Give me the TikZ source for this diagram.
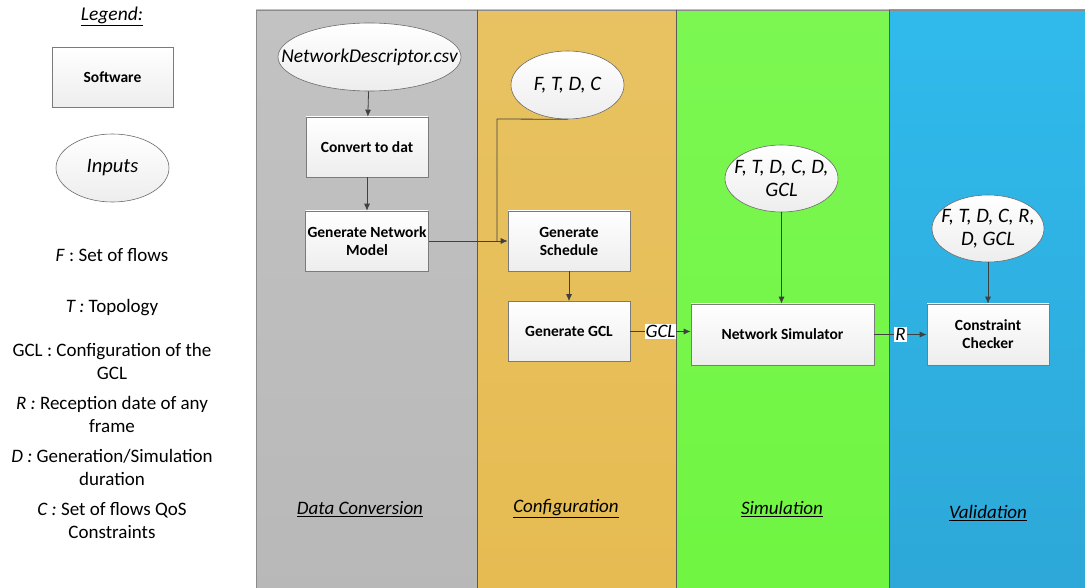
\documentclass[tikz,border=0pt]{standalone}
\usepackage{fontspec}
\setmainfont{Carlito}
\usetikzlibrary{shapes.geometric,arrows.meta}
\definecolor{lgray}{HTML}{C2C2C2}
\definecolor{lgold}{HTML}{E8C262}
\definecolor{lgoldb}{HTML}{E6BB52}
\definecolor{lgreen}{HTML}{7CF752}
\definecolor{lgreenb}{HTML}{70F542}
\definecolor{lblue}{HTML}{30BAEC}
\definecolor{lblueb}{HTML}{2DA8D8}
\definecolor{bord}{HTML}{5A5A5A}
\definecolor{arrc}{HTML}{404040}
\newcommand{\zb}[1]{\makebox[0pt]{#1}}
\begin{document}
\begin{tikzpicture}[x=1pt,y=-1pt,
  softbox/.style={draw=bord!80, line width=0.6pt, top color=white, bottom color=gray!14,
    minimum width=122pt, minimum height=60pt, inner sep=2pt, align=center,
    font=\bfseries\fontsize{15.5}{18}\selectfont},
  inputell/.style={ellipse, draw=bord!90, line width=0.6pt, top color=white, bottom color=gray!14,
    inner sep=0pt, align=center, font=\itshape\fontsize{20.5}{22.5}\selectfont},
  legtext/.style={align=center, font=\fontsize{19}{23}\selectfont},
  lanelabel/.style={font=\itshape\fontsize{19}{20}\selectfont},
  arr/.style={draw=arrc, line width=0.8pt, -{Latex[length=7pt,width=6pt]}},
  plain/.style={draw=arrc, line width=0.8pt},
  edgelab/.style={fill=white, inner sep=1pt, font=\itshape\fontsize{19}{20}\selectfont}
]
\useasboundingbox (0,0) rectangle (1085,588);
% lanes
\shade[top color=lgray, bottom color=lgray!95!black] (256,10) rectangle (477,588);
\shade[top color=lgold, bottom color=lgoldb] (477,10) rectangle (676,588);
\shade[top color=lgreen, bottom color=lgreenb] (676,10) rectangle (889,588);
\shade[top color=lblue, bottom color=lblueb] (889,10) rectangle (1085,588);
\draw[draw=bord!70, line width=0.8pt] (256,588) -- (256,10) -- (1085,10);
\foreach \xx in {477,676,889} \draw[draw=bord, line width=0.7pt] (\xx,10) -- (\xx,588);

% lane labels
\node[lanelabel] (l1) at (360,509) {\underline{Data Conversion}};
\node[lanelabel] (l2) at (566,509) {\underline{Configuration}};
\node[lanelabel] (l3) at (782,509) {\underline{Simulation}};
\node[lanelabel] (l4) at (988,513) {\underline{Validation}};

% legend
\node[legtext, font=\itshape\fontsize{19.5}{20}\selectfont] (leg) at (112,16) {\underline{Legend:}};
\node[softbox, minimum width=121pt, minimum height=60pt] (lsoft) at (112.5,77) {Software};
\node[inputell, minimum width=113pt, minimum height=68pt] (linp) at (112.5,168) {\zb{Inputs}};
\node[legtext] (tF) at (112,255) {\textit{F} : Set of flows};
\node[legtext] (tT) at (112,308) {\textit{T :} Topology};
\node[legtext] (tG) at (112,361) {GCL : Configuration of the\\GCL};
\node[legtext] (tR) at (112,414) {\textit{R :} Reception date of any\\frame};
\node[legtext] (tD) at (112,467) {\textit{D :} Generation/Simulation\\duration};
\node[legtext] (tC) at (112,521) {\textit{C :} Set of flows QoS\\Constraints};

% data conversion
\node[inputell, minimum width=183pt, minimum height=68pt, font=\itshape\fontsize{19.5}{22}\selectfont] (csv) at (369.5,57) {\zb{NetworkDescriptor.csv}};
\node[softbox] (conv) at (367,147) {Convert to dat};
\node[softbox] (gnm) at (367,241) {Generate Network\\Model};

% configuration
\node[inputell, minimum width=113pt, minimum height=68pt] (ftdc) at (567.5,85) {\zb{F, T, D, C}};
\node[softbox] (gs) at (569,241) {Generate\\Schedule};
\node[softbox] (gg) at (569,331.5) {Generate GCL};

% simulation
\node[inputell, minimum width=113pt, minimum height=67pt] (sin) at (781.5,178.5) {\zb{F, T, D, C, D,}\\\zb{GCL}};
\node[softbox, minimum width=183pt, minimum height=61pt] (ns) at (782.5,334.5) {Network Simulator};

% validation
\node[inputell, minimum width=112pt, minimum height=67pt] (vin) at (988,228.5) {\zb{F, T, D, C, R,}\\\zb{D, GCL}};
\node[softbox, minimum width=122pt, minimum height=61pt] (cc) at (988,334.5) {Constraint\\Checker};

% connectors
\coordinate (j1) at (497,119);
\coordinate (j2) at (497,241);
\draw[arr] (csv) -- (conv);
\draw[arr] (conv) -- (gnm);
\draw[arr] (gnm) -- (gs);
\draw[plain] (ftdc.south) -- (j1) -- (j2);
\draw[arr] (gs) -- (gg);
\draw[arr] (gg.east) -- node[edgelab] {GCL} (ns.west |- gg.east);
\draw[arr] (sin.south) -- (sin.south |- ns.north);
\draw[arr] (ns) -- node[edgelab] {R} (cc);
\draw[arr] (vin) -- (cc);
\end{tikzpicture}
\end{document}
